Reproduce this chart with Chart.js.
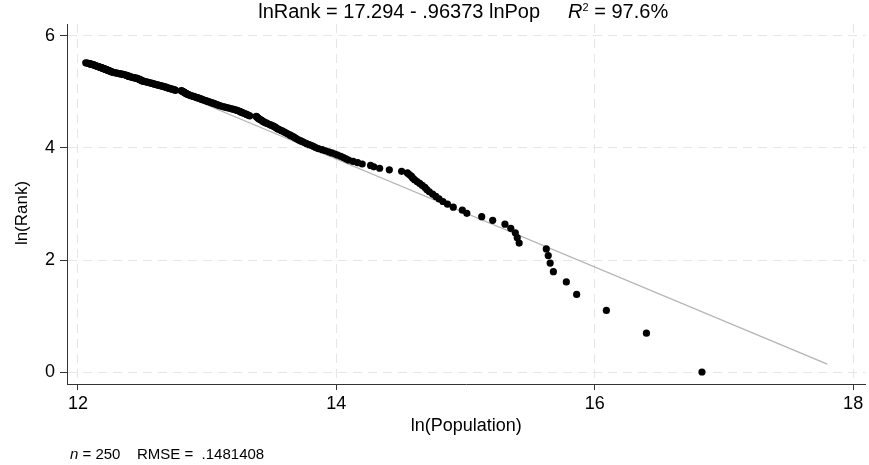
<!DOCTYPE html>
<html>
<head>
<meta charset="utf-8">
<script src="https://cdn.jsdelivr.net/npm/chart.js@4/dist/chart.umd.min.js"></script>
<style>
html,body{margin:0;padding:0;background:#fff;}
#wrap{width:869px;height:465px;}
</style>
</head>
<body>
<div id="wrap"><canvas id="c" width="869" height="465"></canvas></div>
<script>
// ln(Population), cities ordered by rank 1..250
const lnPop = [
16.83,16.40,16.09,15.86,15.78,15.68,15.655,15.64,15.625,15.415,
15.40,15.385,15.35,15.305,15.21,15.125,15.01,14.975,14.905,14.86,
14.825,14.795,14.77,14.745,14.72,14.70,14.685,14.665,14.645,14.625,
14.605,14.59,14.58,14.565,14.55,14.505,14.41,14.335,14.29,14.265,
14.20,14.165,14.13,14.095,14.075,14.055,14.035,14.01,13.99,13.965,
13.94,13.915,13.89,13.86,13.84,13.825,13.81,13.79,13.77,13.755,
13.74,13.725,13.71,13.695,13.685,13.675,13.665,13.65,13.64,13.625,
13.615,13.605,13.595,13.58,13.57,13.555,13.545,13.535,13.53,13.52,
13.51,13.495,13.485,13.47,13.46,13.45,13.44,13.43,13.425,13.415,
13.41,13.40,13.395,13.39,13.385,13.38,13.33,13.32,13.31,13.30,
13.29,13.28,13.27,13.26,13.25,13.24,13.23,13.22,13.205,13.19,
13.175,13.16,13.145,13.13,13.115,13.10,13.09,13.08,13.07,13.06,
13.05,13.04,13.03,13.02,13.01,13.00,12.99,12.98,12.97,12.96,
12.955,12.945,12.935,12.925,12.915,12.905,12.895,12.885,12.875,12.865,
12.86,12.85,12.845,12.84,12.835,12.83,12.825,12.82,12.815,12.81,
12.805,12.80,12.755,12.75,12.74,12.73,12.72,12.71,12.70,12.69,
12.685,12.68,12.67,12.66,12.65,12.64,12.63,12.62,12.61,12.60,
12.59,12.585,12.575,12.565,12.555,12.545,12.535,12.525,12.515,12.505,
12.50,12.495,12.49,12.485,12.48,12.475,12.47,12.465,12.46,12.45,
12.44,12.43,12.42,12.41,12.40,12.395,12.39,12.385,12.38,12.375,
12.37,12.36,12.35,12.34,12.33,12.32,12.31,12.30,12.29,12.28,
12.27,12.265,12.26,12.255,12.25,12.245,12.24,12.235,12.23,12.225,
12.22,12.215,12.21,12.205,12.20,12.195,12.19,12.185,12.18,12.175,
12.17,12.165,12.16,12.155,12.15,12.145,12.14,12.135,12.13,12.125,
12.12,12.115,12.11,12.10,12.095,12.09,12.085,12.08,12.07,12.06
];
// ln(Rank), ranks 1..250
const lnRank = [
0,0.693,1.099,1.386,1.609,1.792,1.946,2.079,2.197,2.303,
2.398,2.485,2.565,2.639,2.708,2.773,2.833,2.890,2.944,2.996,
3.045,3.091,3.135,3.178,3.219,3.258,3.296,3.332,3.367,3.401,
3.434,3.466,3.497,3.526,3.555,3.584,3.611,3.638,3.664,3.689,
3.714,3.738,3.761,3.784,3.807,3.829,3.850,3.871,3.892,3.912,
3.932,3.951,3.970,3.989,4.007,4.025,4.043,4.060,4.078,4.094,
4.111,4.127,4.143,4.159,4.174,4.190,4.205,4.220,4.234,4.248,
4.263,4.277,4.290,4.304,4.317,4.331,4.344,4.357,4.369,4.382,
4.394,4.407,4.419,4.431,4.443,4.454,4.466,4.477,4.489,4.500,
4.511,4.522,4.533,4.543,4.554,4.564,4.575,4.585,4.595,4.605,
4.615,4.625,4.635,4.644,4.654,4.663,4.673,4.682,4.691,4.700,
4.710,4.718,4.727,4.736,4.745,4.754,4.762,4.771,4.779,4.787,
4.796,4.804,4.812,4.820,4.828,4.836,4.844,4.852,4.860,4.868,
4.875,4.883,4.890,4.898,4.905,4.913,4.920,4.927,4.934,4.942,
4.949,4.956,4.963,4.970,4.977,4.984,4.990,4.997,5.004,5.011,
5.017,5.024,5.030,5.037,5.043,5.050,5.056,5.063,5.069,5.075,
5.081,5.088,5.094,5.100,5.106,5.112,5.118,5.124,5.130,5.136,
5.142,5.147,5.153,5.159,5.165,5.170,5.176,5.182,5.187,5.193,
5.198,5.204,5.209,5.215,5.220,5.226,5.231,5.236,5.242,5.247,
5.252,5.257,5.263,5.268,5.273,5.278,5.283,5.288,5.293,5.298,
5.303,5.308,5.313,5.318,5.323,5.328,5.333,5.338,5.342,5.347,
5.352,5.357,5.361,5.366,5.371,5.375,5.380,5.384,5.389,5.394,
5.398,5.403,5.407,5.412,5.416,5.421,5.425,5.429,5.434,5.438,
5.442,5.447,5.451,5.455,5.460,5.464,5.468,5.472,5.476,5.481,
5.485,5.489,5.493,5.497,5.501,5.505,5.509,5.513,5.517,5.521
];
// fitted regression line lnRank = a + b*lnPop, drawn over this lnPop span
const fitIntercept = 17.294;
const fitSlope = -0.96373;
const fitSpan = [12.4, 17.8];
const xTicks = [12, 14, 16, 18];
const yTicks = [0, 2, 4, 6];
const titleMain = 'lnRank = 17.294 - .96373 lnPop';
const titleR2 = '= 97.6%';
const noteN = '= 250';
const noteRmse = 'RMSE =  .1481408';
const xTitle = 'ln(Population)';
const yTitle = 'ln(Rank)';

const FONT = "'Liberation Sans', Arial, Helvetica, sans-serif";

const scatterData = lnPop.map((x, i) => ({x: x, y: lnRank[i]}));
const fitData = fitSpan.map(x => ({x: x, y: fitIntercept + fitSlope * x}));

const textPlugin = {
  id: 'textPlugin',
  beforeDraw(chart) {
    const ctx = chart.ctx;
    ctx.save();
    ctx.fillStyle = '#fff';
    ctx.fillRect(0, 0, chart.width, chart.height);
    ctx.restore();
  },
  afterDraw(chart) {
    const ctx = chart.ctx;
    const area = chart.chartArea;
    ctx.save();
    ctx.fillStyle = '#000';
    ctx.textBaseline = 'alphabetic';
    // title
    const fMain = '20px ' + FONT;
    const fIt = 'italic 20px ' + FONT;
    const fSup = '11px ' + FONT;
    ctx.font = fMain;
    const w1 = ctx.measureText(titleMain).width;
    const gap = 28;
    ctx.font = fIt;
    const wR = ctx.measureText('R').width;
    ctx.font = fSup;
    const w2 = ctx.measureText('2').width;
    ctx.font = fMain;
    const wRest = ctx.measureText(' ' + titleR2).width;
    const total = w1 + gap + wR + w2 + wRest;
    const cx = (area.left + area.right) / 2 - 3;
    let x = cx - total / 2;
    const by = 18;
    ctx.font = fMain; ctx.fillText(titleMain, x, by); x += w1 + gap;
    ctx.font = fIt; ctx.fillText('R', x, by); x += wR;
    ctx.font = fSup; ctx.fillText('2', x, by - 7); x += w2;
    ctx.font = fMain; ctx.fillText(' ' + titleR2, x, by);
    // y axis title
    ctx.save();
    ctx.translate(22, 213);
    ctx.rotate(-Math.PI / 2);
    ctx.font = '17px ' + FONT;
    ctx.textAlign = 'center';
    ctx.textBaseline = 'middle';
    ctx.fillText(yTitle, 0, 0);
    ctx.restore();
    // note
    const nb = 459;
    ctx.font = 'italic 15px ' + FONT;
    ctx.fillText('n', 70, nb);
    const wn = ctx.measureText('n').width;
    ctx.font = '15px ' + FONT;
    ctx.fillText(' ' + noteN, 70 + wn, nb);
    ctx.fillText(noteRmse, 137, nb);
    ctx.restore();
  }
};

new Chart(document.getElementById('c'), {
  type: 'scatter',
  data: {
    datasets: [
      {
        type: 'scatter',
        label: 'lnRank',
        data: scatterData,
        backgroundColor: '#000',
        borderWidth: 0,
        pointRadius: 3.6,
        pointHoverRadius: 3.6,
        order: 0
      },
      {
        type: 'line',
        label: 'Fitted',
        data: fitData,
        borderColor: '#b4b4b4',
        borderWidth: 1.3,
        pointRadius: 0,
        fill: false,
        tension: 0,
        order: 1
      }
    ]
  },
  options: {
    responsive: false,
    animation: false,
    events: [],
    layout: {padding: {top: 24, left: 0, right: 0, bottom: 0}},
    plugins: {legend: {display: false}, tooltip: {enabled: false}, title: {display: false}},
    scales: {
      x: {
        type: 'linear',
        min: 11.915,
        max: 18.095,
        afterBuildTicks(scale) { scale.ticks = xTicks.map(v => ({value: v})); },
        afterFit(scale) { scale.height = 81; },
        ticks: {
          font: {family: FONT, size: 18},
          color: '#000',
          padding: 3,
          maxRotation: 0,
          autoSkip: false,
          callback: v => String(v)
        },
        grid: {
          color: '#e6e6e6',
          lineWidth: 1,
          tickLength: 6,
          tickColor: '#333',
          tickWidth: 1
        },
        border: {display: true, color: '#333', width: 1, dash: [9, 6]},
        title: {
          display: true,
          text: xTitle,
          color: '#000',
          font: {family: FONT, size: 18},
          padding: {top: 0, bottom: 28}
        }
      },
      y: {
        type: 'linear',
        min: -0.214,
        max: 6.214,
        afterBuildTicks(scale) { scale.ticks = yTicks.map(v => ({value: v})); },
        afterFit(scale) { scale.width = 67; },
        ticks: {
          font: {family: FONT, size: 18},
          color: '#000',
          padding: 5,
          autoSkip: false,
          callback: v => String(v)
        },
        grid: {
          color: '#e6e6e6',
          lineWidth: 1,
          tickLength: 7,
          tickColor: '#333',
          tickWidth: 1
        },
        border: {display: true, color: '#333', width: 1, dash: [9, 6]},
        title: {display: false}
      }
    }
  },
  plugins: [textPlugin]
});
</script>
</body>
</html>
